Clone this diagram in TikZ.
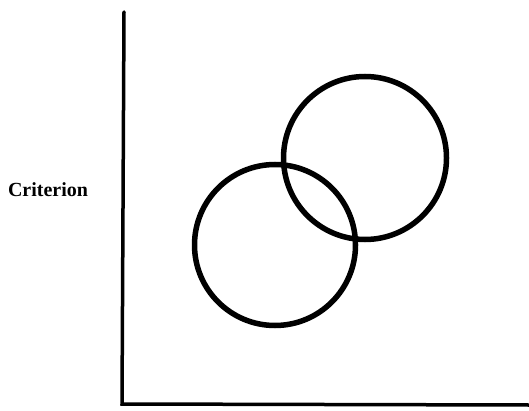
\documentclass[tikz,border=0pt]{standalone}
\usepackage{fontspec}
\setmainfont{Liberation Serif}
\begin{document}
\begin{tikzpicture}[x=1pt,y=-1pt,
  axis/.style={line width=3.5pt,line cap=round},
  ring/.style={line width=5.5pt,draw=black}]
\useasboundingbox (0,0) rectangle (529,411);
\coordinate (top) at (124,12);
\coordinate (origin) at (122,404);
\coordinate (right) at (529,405);
\draw[axis] (top) -- (origin) -- (right);
\node[ring,circle,minimum size=161pt,inner sep=0pt] (c1) at (275,245) {};
\node[ring,circle,minimum size=163pt,inner sep=0pt] (c2) at (365,158) {};
\node[font=\fontsize{20}{24}\selectfont\bfseries] (lab) at (48,190) {Criterion};
\end{tikzpicture}
\end{document}
